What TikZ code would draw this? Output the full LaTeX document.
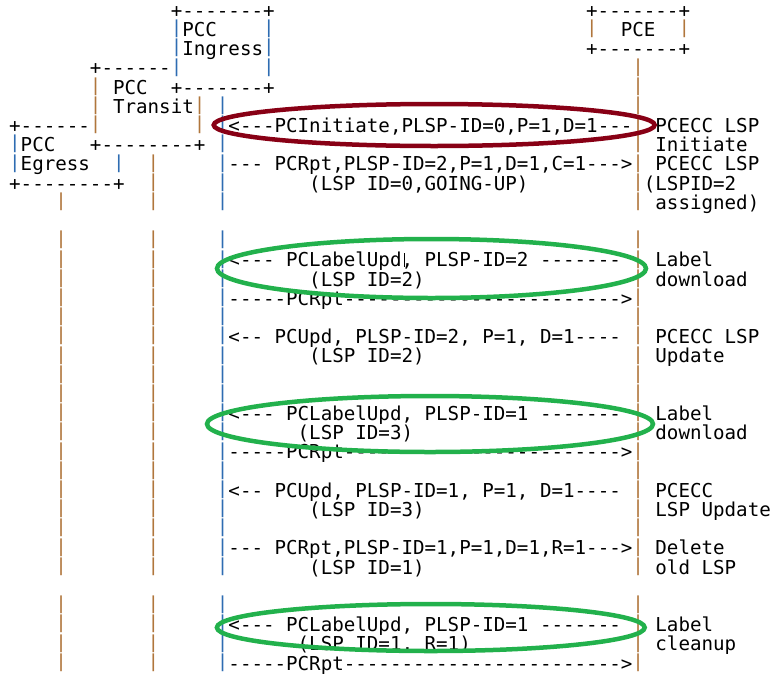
\documentclass[tikz,border=0pt]{standalone}
\usepackage{fontspec}
\newfontfamily\asciifont{DejaVu Sans Mono}[Ligatures=TeXOff]
\definecolor{pipeO}{RGB}{176,118,60}
\definecolor{pipeB}{RGB}{46,108,178}
\definecolor{ovalRed}{RGB}{136,0,21}
\definecolor{ovalGreen}{RGB}{34,177,76}
\newcommand\colw{11.54}
\newcommand\xoff{9.2}
\newcommand\lpitch{19.2}
\newcommand\ybase{17.3}
\tikzset{
  asc/.style={anchor=base west, inner sep=0pt, outer sep=0pt,
    font=\asciifont\fontsize{19.17}{19.2}\selectfont},
  oval/.style={line width=4.5pt}
}
\newcommand\mytxt[4][black]{\node[asc, text=#1] (t#2-#3) at ({\xoff+#3*\colw},{-(\ybase+#2*\lpitch)}) {#4};}
\newcommand\mypipe[3][pipeO]{\node[asc, text=#1, yshift=2.8pt] (p#2-#3) at ({\xoff+#3*\colw},{-(\ybase+#2*\lpitch)}) {\scalebox{1}[0.93]{|}};}
\begin{document}
\begin{tikzpicture}[x=1pt,y=1pt]
\useasboundingbox (0,0) rectangle (773,-675);
% ---- boxes ----
\mytxt{0}{14}{+-------+}
\mytxt{0}{50}{+-------+}
\mypipe[pipeB]{1}{14}\mytxt{1}{15}{PCC}\mypipe[pipeB]{1}{22}
\mypipe[pipeO]{1}{50}\mytxt{1}{53}{PCE}\mypipe[pipeO]{1}{58}
\mypipe[pipeB]{2}{14}\mytxt{2}{15}{Ingress}\mypipe[pipeB]{2}{22}
\mytxt{2}{50}{+-------+}
\mytxt{3}{7}{+------}\mypipe[pipeB]{3}{14}\mypipe[pipeB]{3}{22}
\mypipe[pipeO]{4}{7}\mytxt{4}{9}{PCC}\mytxt{4}{14}{+-------+}
\mypipe[pipeO]{5}{7}\mytxt{5}{9}{Transit}\mypipe[pipeO]{5}{16}
\mytxt{6}{0}{+------}\mypipe[pipeO]{6}{7}\mypipe[pipeO]{6}{16}
\mypipe[pipeB]{7}{0}\mytxt{7}{1}{PCC}\mytxt{7}{7}{+--------+}
\mypipe[pipeB]{8}{0}\mytxt{8}{1}{Egress}\mypipe[pipeB]{8}{9}
\mytxt{9}{0}{+--------+}
% ---- lifelines ----
\foreach \r in {10,12,13,...,29,31,32,33,34} {\mypipe[pipeO]{\r}{4}}
\foreach \r in {8,9,10,12,13,...,29,31,32,33,34} {\mypipe[pipeO]{\r}{12}}
\foreach \r in {5,6,...,10,12,13,...,29,31,32,33,34} {\mypipe[pipeB]{\r}{18}}
\foreach \r in {3,4,...,10,12,13,...,29,31,32,33,34} {\mypipe[pipeO]{\r}{54}}
% ---- messages ----
\mytxt{6}{19}{<---PCInitiate,PLSP-ID=0,P=1,D=1---}
\mytxt{6}{56}{PCECC LSP}
\mytxt{7}{56}{Initiate}
\mytxt{8}{19}{--- PCRpt,PLSP-ID=2,P=1,D=1,C=1--->}
\mytxt{8}{56}{PCECC LSP}
\mytxt{9}{26}{(LSP ID=0,GOING-UP)}
\mytxt{9}{55}{(LSPID=2}
\mytxt{10}{56}{assigned)}
\mytxt{13}{19}{<--- PCLabelUpd, PLSP-ID=2 -------}
\mytxt{13}{56}{Label}
\mytxt{14}{26}{(LSP ID=2)}
\mytxt{14}{56}{download}
\mytxt{15}{19}{-----PCRpt------------------------>}
\mytxt{17}{19}{<-- PCUpd, PLSP-ID=2, P=1, D=1----}
\mytxt{17}{56}{PCECC LSP}
\mytxt{18}{26}{(LSP ID=2)}
\mytxt{18}{56}{Update}
\mytxt{21}{19}{<--- PCLabelUpd, PLSP-ID=1 -------}
\mytxt{21}{56}{Label}
\mytxt{22}{25}{(LSP ID=3)}
\mytxt{22}{56}{download}
\mytxt{23}{19}{-----PCRpt------------------------>}
\mytxt{25}{19}{<-- PCUpd, PLSP-ID=1, P=1, D=1----}
\mytxt{25}{56}{PCECC}
\mytxt{26}{26}{(LSP ID=3)}
\mytxt{26}{56}{LSP Update}
\mytxt{28}{19}{--- PCRpt,PLSP-ID=1,P=1,D=1,R=1--->}
\mytxt{28}{56}{Delete}
\mytxt{29}{26}{(LSP ID=1)}
\mytxt{29}{56}{old LSP}
\mytxt{32}{19}{<--- PCLabelUpd, PLSP-ID=1 -------}
\mytxt{32}{56}{Label}
\mytxt{33}{25}{(LSP ID=1, R=1)}
\mytxt{33}{56}{cleanup}
\mytxt{34}{19}{-----PCRpt------------------------>}
% text cursor artefact
\coordinate (cur1) at (404,-253);
\coordinate (cur2) at (404,-267);
\draw[line width=1pt] (cur1) -- (cur2);
% ---- ovals ----
\draw[oval, ovalRed] (434.2,-125) ellipse [x radius=220.5, y radius=21];
\draw[oval, ovalGreen] (431.5,-268.5) ellipse [x radius=214.5, y radius=29.5];
\draw[oval, ovalGreen] (430,-424) ellipse [x radius=223, y radius=28];
\draw[oval, ovalGreen] (430.8,-627.5) ellipse [x radius=213.9, y radius=23.5];
\end{tikzpicture}
\end{document}
